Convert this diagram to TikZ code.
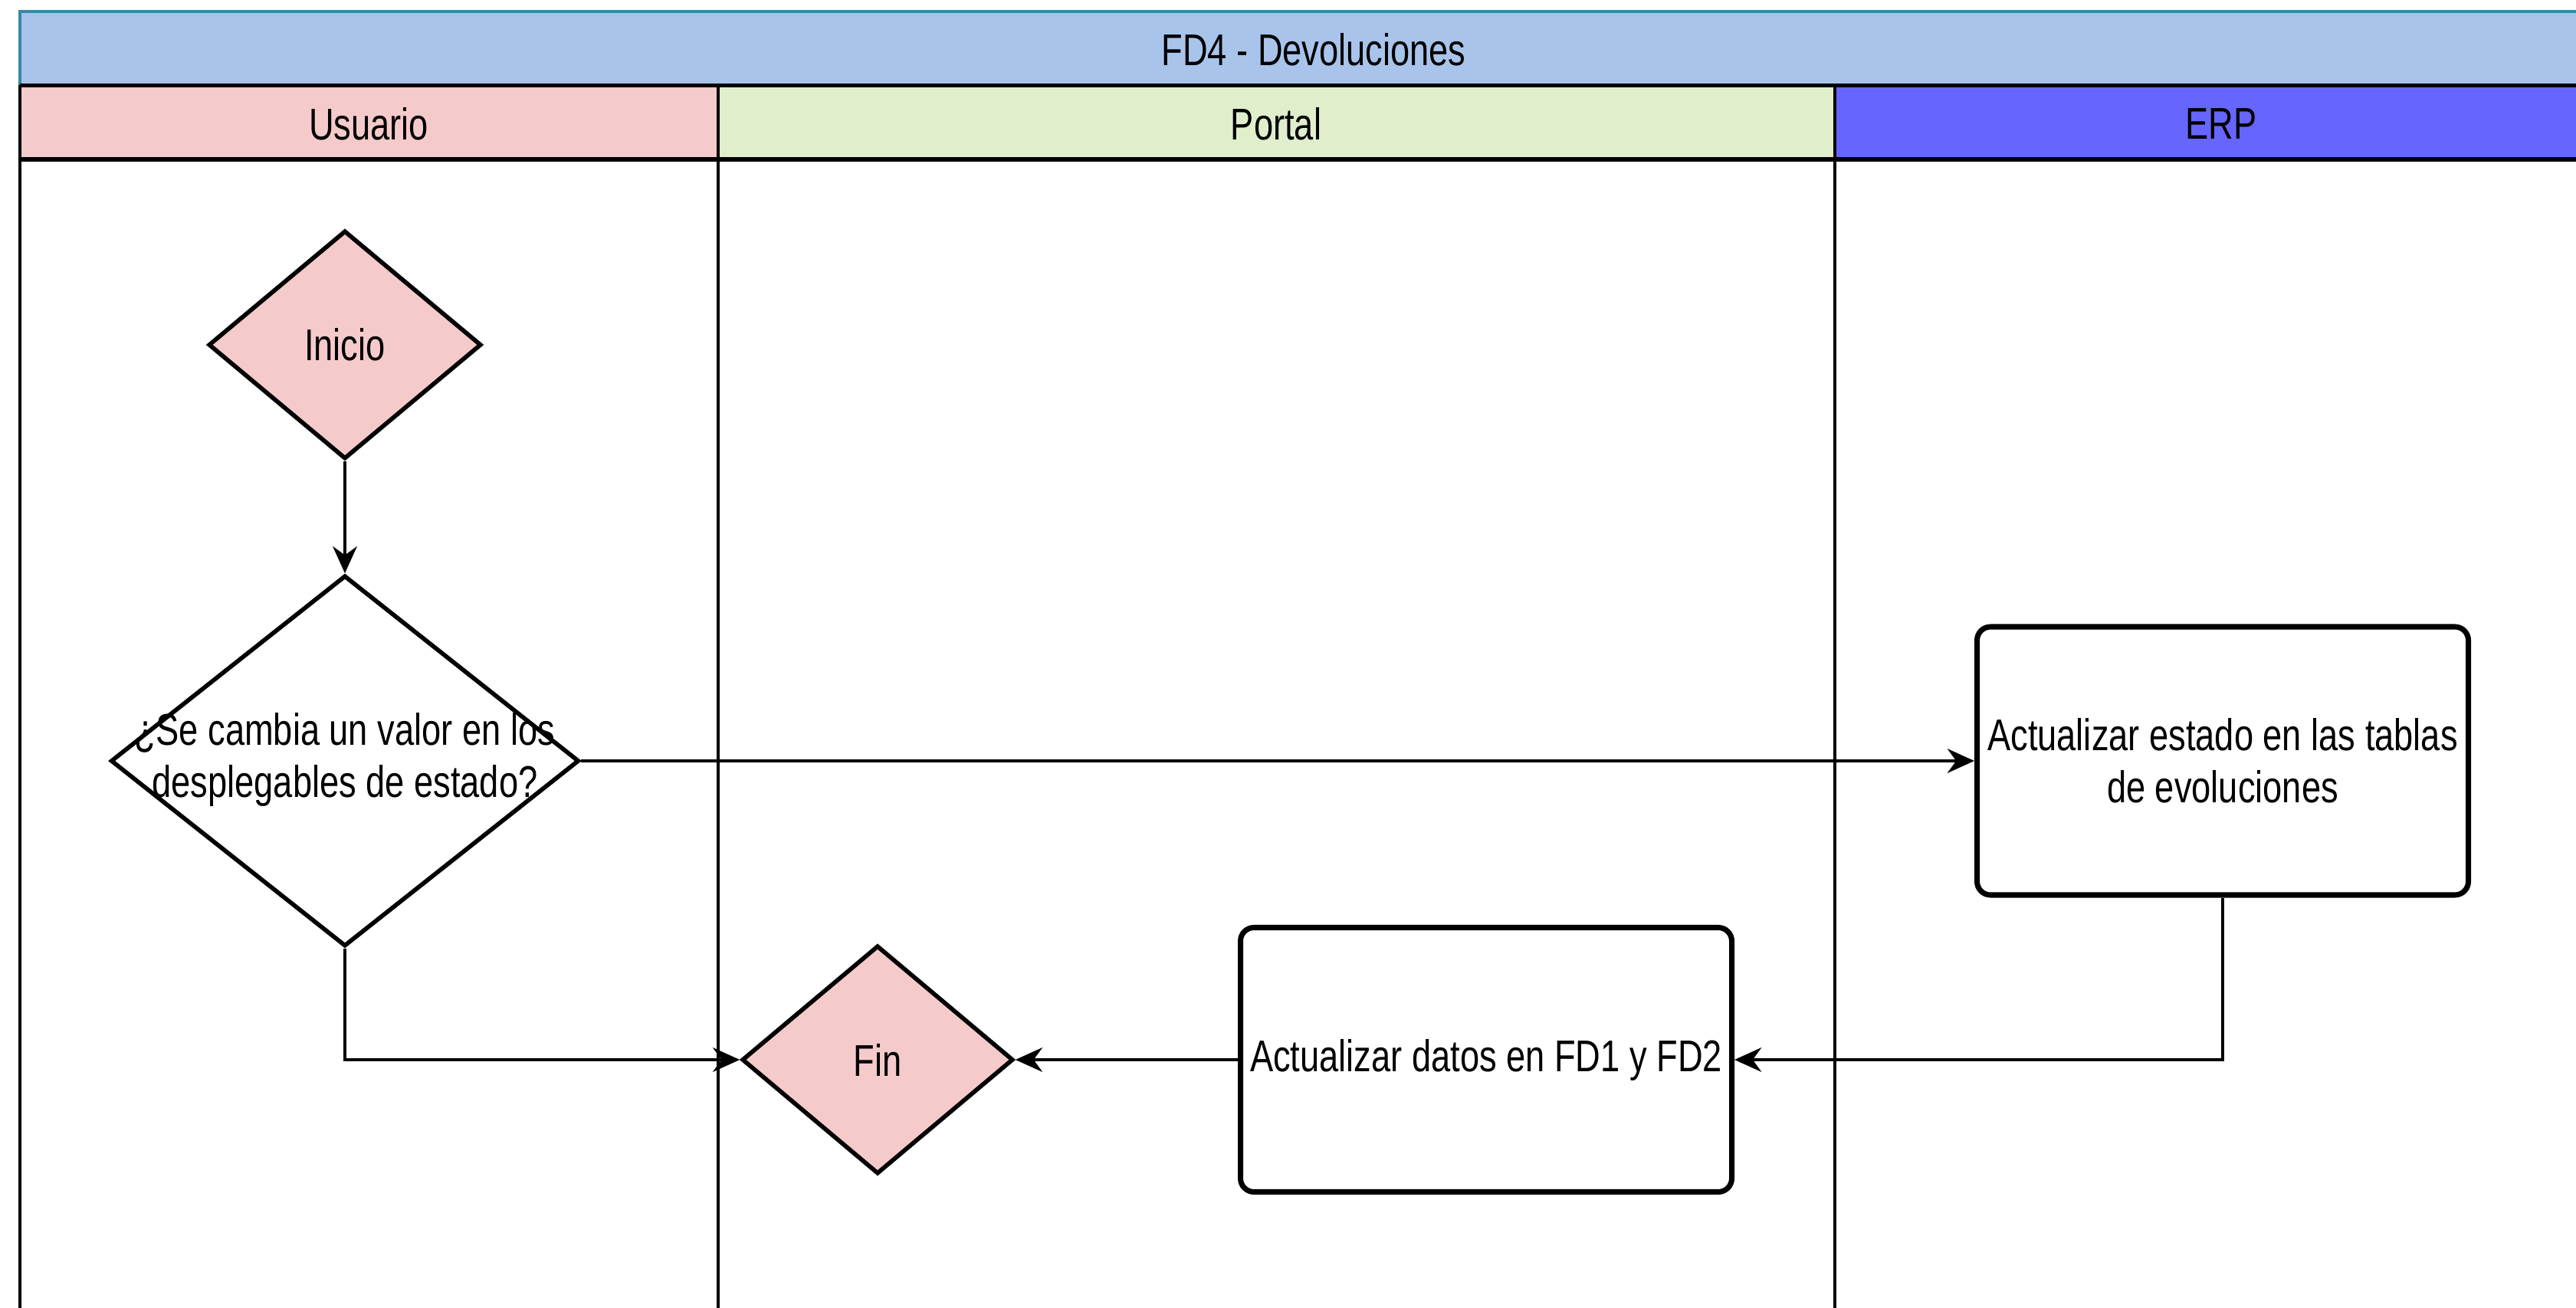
\documentclass[tikz,border=0pt]{standalone}
\usepackage{fontspec}
\setmainfont[FakeStretch=0.78]{Liberation Sans}
\usetikzlibrary{shapes.geometric,arrows.meta}
\definecolor{titlebg}{HTML}{A9C4EB}
\definecolor{titleedge}{HTML}{3A87A5}
\definecolor{userbg}{HTML}{F5CACB}
\definecolor{portalbg}{HTML}{E0EECC}
\definecolor{erpbg}{HTML}{6666FF}
\definecolor{pinkfill}{HTML}{F5CACB}
\begin{document}
\begin{tikzpicture}[
  txt/.style={font=\fontsize{16.5}{19.5}\selectfont},
  lane/.style={line width=1pt},
  hline/.style={line width=1.6pt},
  dia/.style={diamond, draw, line width=1.6pt, inner sep=0pt, txt},
  box/.style={rectangle, rounded corners=5pt, draw, line width=2pt, inner sep=2pt,
              minimum width=6.41cm, minimum height=3.5cm, align=center, txt},
  conn/.style={line width=1.2pt, -{Stealth[length=10pt,width=9pt]}}
]
\useasboundingbox (0,0) rectangle (33.61,-17.07);
\fill[white] (0,0) rectangle (33.61,-17.07);
% title bar
\fill[titlebg] (0.26,-0.15) rectangle (34.02,-1.115);
\draw[titleedge, line width=1.4pt] (0.26,-1.115) -- (0.26,-0.15) -- (34.02,-0.15);
% lane headers
\fill[userbg] (0.26,-1.115) rectangle (9.37,-2.08);
\fill[portalbg] (9.37,-1.115) rectangle (23.94,-2.08);
\fill[erpbg] (23.94,-1.115) rectangle (34.02,-2.08);
\draw[hline] (0.26,-1.115) -- (34.02,-1.115);
\draw[hline] (0.26,-2.08) -- (34.02,-2.08);
% lane lines
\draw[lane] (0.26,-1.115) -- (0.26,-17.2);
\draw[lane] (9.37,-1.115) -- (9.37,-17.2);
\draw[lane] (23.94,-1.115) -- (23.94,-17.2);
% header texts
\node[txt] (title) at (17.14,-0.65) {FD4 - Devoluciones};
\node[txt] (husuario) at (4.81,-1.62) {Usuario};
\node[txt] (hportal) at (16.65,-1.62) {Portal};
\node[txt] (herp) at (28.98,-1.62) {ERP};
% nodes
\node[dia, fill=pinkfill, minimum width=3.56cm, minimum height=2.98cm] (inicio) at (4.50,-4.50) {\makebox[0pt]{Inicio}};
\node[dia, fill=white, minimum width=6.11cm, minimum height=4.84cm] (dec) at (4.50,-9.93)
  {\makebox[0pt]{\begin{tabular}{@{}c@{}}¿Se cambia un valor en los\\desplegables de estado?\end{tabular}}};
\node[box] (erp) at (29.0,-9.93) {Actualizar estado en las tablas\\de evoluciones};
\node[box, minimum height=3.45cm] (pbox) at (19.39,-13.83) {Actualizar datos en FD1 y FD2};
\node[dia, fill=pinkfill, minimum width=3.54cm, minimum height=2.98cm] (fin) at (11.45,-13.83) {\makebox[0pt]{Fin}};
% connectors
\draw[conn] (inicio.south) -- (dec.north);
\draw[conn] (dec.east) -- (erp.west);
\draw[conn] (erp.south) |- (pbox.east);
\draw[conn] (pbox.west) -- (fin.east);
\draw[conn] (dec.south) |- (fin.west);
\end{tikzpicture}
\end{document}
